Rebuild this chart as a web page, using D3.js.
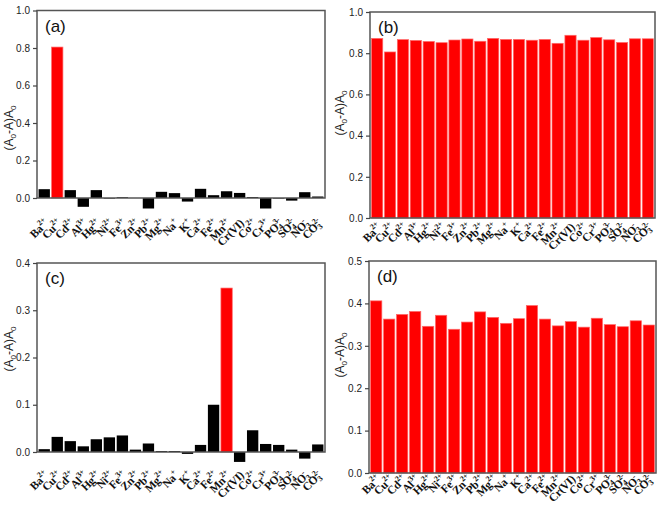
<!DOCTYPE html>
<html><head><meta charset="utf-8">
<script src="https://cdn.jsdelivr.net/npm/d3@7"></script>
<style>body{margin:0;background:#fff}</style>
</head><body>
<svg id="chart" width="661" height="506"></svg>
<script>
// ---- data ----
const ionBase = ["Ba","Cu","Cd","Al","Hg","Ni","Fe","Zn","Pb","Mg","Na","K","Ca","Fe","Mn","Cr(VI)","Co","Cr","PO","SO","NO","CO"];
const ionSub  = ["","","","","","","","","","","","","","","","","","","4","4","3","3"];
const ionSup  = ["2+","2+","2+","3+","2+","2+","3+","2+","2+","2+","+","+","2+","2+","2+","","2+","3+","3-","2-","-","2-"];

const valuesA = [0.047,0.805,0.042,-0.047,0.042,-0.003,0.004,0.0,-0.056,0.033,0.026,-0.019,0.049,0.015,0.036,0.027,0.005,-0.056,-0.003,-0.014,0.031,0.008];
const valuesB = [0.872,0.806,0.866,0.862,0.857,0.851,0.864,0.869,0.858,0.872,0.867,0.867,0.863,0.867,0.848,0.887,0.863,0.876,0.865,0.852,0.870,0.870];
const valuesC = [0.006,0.032,0.023,0.012,0.027,0.031,0.035,0.005,0.018,0.002,0.002,-0.004,0.015,0.100,0.347,-0.021,0.046,0.017,0.015,0.005,-0.014,0.016];
const valuesD = [0.406,0.363,0.374,0.381,0.346,0.372,0.339,0.356,0.380,0.367,0.353,0.364,0.395,0.363,0.347,0.357,0.344,0.365,0.350,0.345,0.359,0.349];

const redA = ["Cu"];            // highlighted category in (a)
const redC = ["Mn"];            // highlighted category in (c)
const ticksA = [0,0.2,0.4,0.6,0.8,1.0];
const ticksB = [0,0.2,0.4,0.6,0.8,1.0];
const ticksC = [0,0.1,0.2,0.3,0.4];
const ticksD = [0,0.1,0.2,0.3,0.4,0.5];
const panelTags = ["(a)","(b)","(c)","(d)"];

const svg = d3.select("#chart");
const idx = d3.range(ionBase.length);

function panel(o){
  const g = svg.append("g");
  const x = d3.scaleBand().domain(idx).range([o.left,o.right]).paddingInner(0.13).paddingOuter(0.12);
  const y = d3.scaleLinear().domain(o.domain).range([o.zero,o.top]);
  // bars
  g.selectAll("rect.bar").data(o.values).join("rect")
    .attr("x",(d,i)=>x(i)).attr("width",x.bandwidth())
    .attr("y",d=>Math.min(y(d),y(0))).attr("height",d=>Math.abs(y(d)-y(0)))
    .attr("fill",(d,i)=>o.isRed(i)?"#ff0000":"#000")
    .attr("stroke",(d,i)=>o.isRed(i)?"#ff6a6a":"none").attr("stroke-width",0.7);
  // frame
  g.append("rect").attr("x",o.left).attr("y",y(o.domain[1]))
    .attr("width",o.right-o.left).attr("height",y(0)-y(o.domain[1]))
    .attr("fill","none").attr("stroke","#555").attr("stroke-width",1.5);
  // y axis
  const ax = g.append("g").attr("transform",`translate(${o.left},0)`)
    .call(d3.axisLeft(y).tickValues(o.ticks).tickFormat(d3.format(".1f")).tickSize(4).tickPadding(3));
  ax.select(".domain").remove();
  ax.selectAll(".tick line").attr("stroke","#444").attr("stroke-width",1.2);
  ax.selectAll(".tick text").attr("font-family","Liberation Sans, Arial, sans-serif").attr("font-size",10).attr("fill","#222");
  // y title
  const t = g.append("text").attr("transform",`translate(${o.titleX},${o.titleY}) rotate(-90)`)
    .attr("text-anchor","middle").attr("font-family","Liberation Sans, Arial, sans-serif").attr("font-size",12).attr("fill","#222");
  t.append("tspan").text("(A");
  t.append("tspan").attr("font-size",8).attr("dy",3).text("0");
  t.append("tspan").attr("dy",-3).text("-A)A");
  t.append("tspan").attr("font-size",8).attr("dy",3).text("0");
  // tag
  g.append("text").attr("x",o.left+8).attr("y",y(o.domain[1])+21)
    .attr("font-family","Liberation Sans, Arial, sans-serif").attr("font-size",17).attr("fill","#111").text(o.tag);
  // x labels
  idx.forEach(i=>{
    const cx = x(i)+x.bandwidth()/2+5;
    const lab = g.append("text").attr("transform",`translate(${cx},${y(0)+o.labOff}) rotate(-45)`)
      .attr("text-anchor","end").attr("font-family","Liberation Serif, Times New Roman, serif")
      .attr("font-weight","bold").attr("font-size",11.5).attr("letter-spacing",-0.3).attr("fill","#111");
    lab.append("tspan").text(ionBase[i]);
    if(ionSub[i]){
      lab.append("tspan").attr("font-size",8).attr("dy",2.5).text(ionSub[i]);
      if(ionSup[i]) lab.append("tspan").attr("font-size",8).attr("dx",-4).attr("dy",-7.5).text(ionSup[i]);
    } else if(ionSup[i]){
      lab.append("tspan").attr("font-size",8).attr("dy",-5).text(ionSup[i]);
    }
  });
}

panel({left:37,right:325,top:10.5,zero:198,domain:[0,1],ticks:ticksA,values:valuesA,tag:panelTags[0],labOff:26,titleX:13,titleY:128,isRed:i=>redA.includes(ionBase[i])});
panel({left:370,right:655,top:12,zero:218,domain:[0,1],ticks:ticksB,values:valuesB,tag:panelTags[1],labOff:10,titleX:344,titleY:113,isRed:i=>true});
panel({left:37,right:325,top:263,zero:452,domain:[0,0.4],ticks:ticksC,values:valuesC,tag:panelTags[2],labOff:24,titleX:13,titleY:349,isRed:i=>redC.includes(ionBase[i])});
panel({left:369,right:656,top:261,zero:473,domain:[0,0.5],ticks:ticksD,values:valuesD,tag:panelTags[3],labOff:7,titleX:344,titleY:355,isRed:i=>true});
</script>
</body></html>
